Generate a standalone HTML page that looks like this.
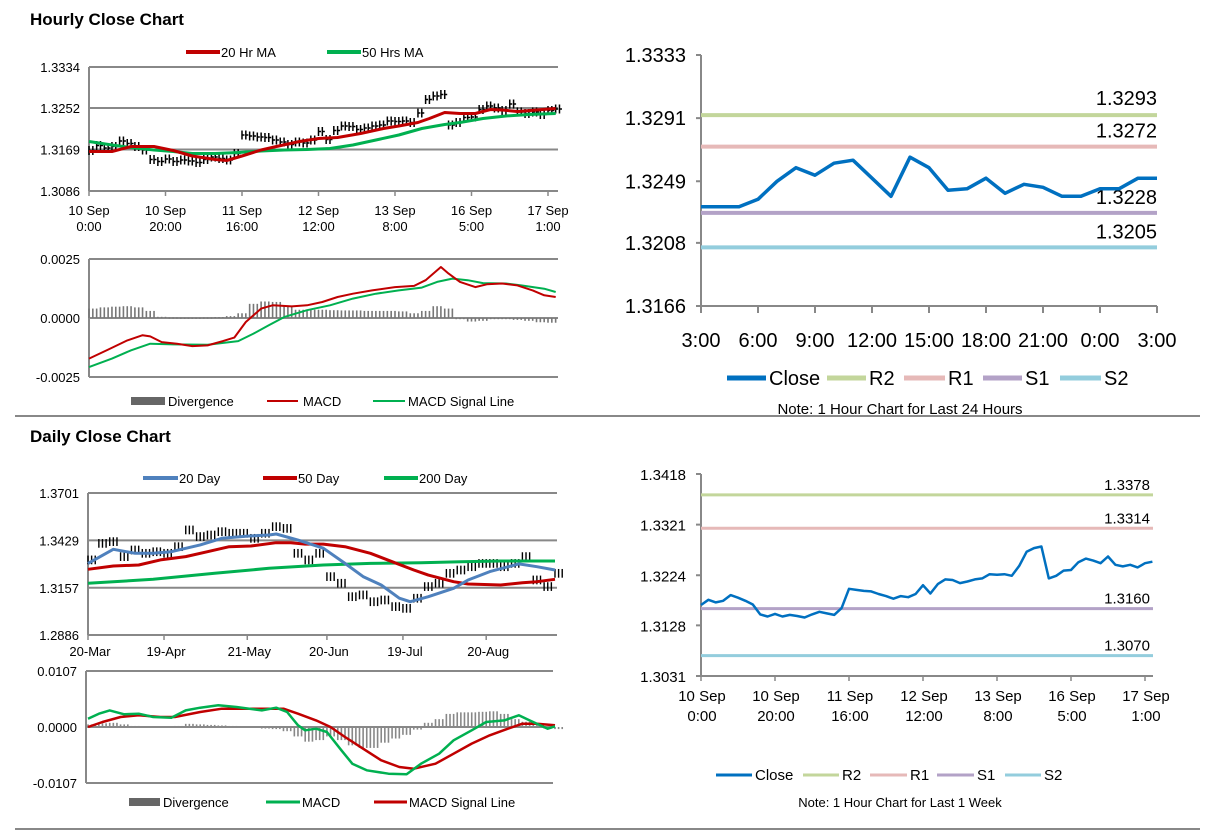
<!DOCTYPE html>
<html><head><meta charset="utf-8">
<style>
html,body{margin:0;padding:0;background:#fff;}
svg{display:block;font-family:"Liberation Sans Narrow","Liberation Sans",sans-serif;}
.t{font-family:"Liberation Sans",sans-serif;font-weight:bold;font-size:17px;fill:#000;}
</style></head>
<body>
<svg id="s" width="1212" height="834" viewBox="0 0 1212 834" xmlns="http://www.w3.org/2000/svg">
<text class="t" x="30" y="25">Hourly Close Chart</text>
<text class="t" x="30" y="442">Daily Close Chart</text>
<line x1="15" y1="416" x2="1200" y2="416" stroke="#888" stroke-width="2"/>
<line x1="15" y1="829" x2="1200" y2="829" stroke="#888" stroke-width="2"/>
</svg>
<script>
// ===== Weekly hourly close (shared by top-left and bottom-right), every 2 hours =====
const weekIdx = [];
for (let k = 0; k < 62; k++) weekIdx.push(k * 2);
const weekClose = [1.3167,1.3177,1.3172,1.3175,1.3186,1.3181,1.3175,1.3168,1.3149,1.3145,1.3150,1.3145,1.3148,1.3146,1.3143,1.3149,1.3154,1.3151,1.3148,1.3161,1.3198,1.3196,1.3194,1.3193,1.3188,1.3184,1.3179,1.3184,1.3182,1.3188,1.3205,1.3189,1.3207,1.3216,1.3215,1.3209,1.3212,1.3216,1.3218,1.3226,1.3225,1.3226,1.3223,1.3242,1.3269,1.3276,1.3279,1.3218,1.3223,1.3233,1.3234,1.3249,1.3256,1.3252,1.3247,1.3260,1.3244,1.3241,1.3244,1.3239,1.3247,1.3250];
const weekTickIdx = [0,20,40,60,80,100,120];
const weekTickTop = ["10 Sep","10 Sep","11 Sep","12 Sep","13 Sep","16 Sep","17 Sep"];
const weekTickBot = ["0:00","20:00","16:00","12:00","8:00","5:00","1:00"];
// hourly MAs
const ma20Idx = [0,6,11,17,22,27,33,36,40,45,49,55,60,65,71,77,81,86,89,93,97,101,105,108,112,117,122];
const ma20Val = [1.3165,1.3165,1.3175,1.3175,1.3167,1.3156,1.3149,1.3147,1.3156,1.3168,1.3175,1.3185,1.3191,1.3193,1.3201,1.3211,1.3216,1.3223,1.3231,1.3243,1.3241,1.3241,1.3249,1.3248,1.3245,1.3248,1.3251];
const ma50Idx = [0,6,11,17,22,27,33,39,45,51,57,63,69,75,81,87,93,97,103,109,115,122];
const ma50Val = [1.3185,1.3178,1.3173,1.3168,1.3165,1.3161,1.3161,1.3163,1.3166,1.3168,1.3169,1.3171,1.3178,1.3188,1.3198,1.3211,1.3219,1.3223,1.3231,1.3236,1.3239,1.3241];
const hTicks = [1.3334,1.3252,1.3169,1.3086];
// hourly MACD
const hMacdIdx = [0,5,10,14,16,19,23,27,31,35,38,41,45,48,53,57,61,65,69,74,80,85,88,92,94,97,101,104,108,112,116,119,122];
const hMacdVal = [-0.00172,-0.00134,-0.00095,-0.00073,-0.00078,-0.00102,-0.00109,-0.00119,-0.00116,-0.00098,-0.00083,-0.00017,0.00040,0.00054,0.00049,0.00054,0.00068,0.00089,0.00103,0.00117,0.00131,0.00136,0.00160,0.00216,0.00188,0.00153,0.00131,0.00143,0.00146,0.00138,0.00117,0.00096,0.00089];
const hSigIdx = [0,6,11,16,22,31,39,43,47,51,57,63,69,75,81,87,91,95,99,103,109,113,119,122];
const hSigVal = [-0.00208,-0.00172,-0.00137,-0.00109,-0.00112,-0.00113,-0.00098,-0.00066,-0.00031,0.00004,0.00033,0.00054,0.00082,0.00103,0.00117,0.00129,0.00153,0.00167,0.00160,0.00148,0.00146,0.00138,0.00124,0.00110];
const hDivVal = [0.0004,0.00045,0.00048,0.0005,0.00045,0.0003,0.00005,0.00002,0.00001,0.00001,0.00002,0.00004,0.00008,0.0002,0.0006,0.0007,0.00068,0.0005,0.00035,0.00035,0.00035,0.00033,0.00032,0.00032,0.0003,0.0003,0.0003,0.00028,0.0002,0.0003,0.0005,0.0004,-0.00005,-0.00015,-0.00012,-0.00005,-0.00005,-0.00008,-0.00012,-0.00018,-0.0002];
const hMacdTicks = [0.0025,0.0,-0.0025];
const hMacdTickLbl = ["0.0025","0.0000","-0.0025"];
// ===== Daily =====
const dClose = [1.3317,1.3412,1.3422,1.3336,1.3374,1.3355,1.3364,1.3355,1.3393,1.3489,1.3451,1.3460,1.3479,1.3470,1.3470,1.3441,1.3470,1.3508,1.3498,1.3355,1.3317,1.3355,1.3221,1.3183,1.3106,1.3116,1.3077,1.3087,1.3049,1.3039,1.3097,1.3164,1.3183,1.3240,1.3259,1.3278,1.3297,1.3297,1.3278,1.3297,1.3336,1.3202,1.3164,1.3240];
const d20Idx = [0,7,13,18,23,31,37,44,50,52,58,65,71,76,81,86,89,94,101,105,111,119,124,129];
const d20Val = [1.3297,1.3378,1.3355,1.3355,1.3364,1.3403,1.3441,1.3454,1.3460,1.3466,1.3431,1.3384,1.3297,1.3221,1.3173,1.3097,1.3077,1.3106,1.3154,1.3202,1.3250,1.3294,1.3278,1.3259];
const d50Idx = [0,7,14,20,27,33,39,45,52,56,60,65,71,78,84,90,94,101,105,114,120,124,129];
const d50Val = [1.3263,1.3282,1.3288,1.3317,1.3336,1.3364,1.3393,1.3397,1.3416,1.3416,1.3408,1.3408,1.3393,1.3355,1.3307,1.3259,1.3230,1.3192,1.3179,1.3173,1.3186,1.3192,1.3206];
const d200Idx = [0,18,35,50,65,78,92,103,114,129];
const d200Val = [1.3183,1.3206,1.3240,1.3269,1.3288,1.3297,1.3301,1.3307,1.3311,1.3311];
const dTicks = [1.3701,1.3429,1.3157,1.2886];
const dTickIdx = [0,21,44,66,87,110];
const dTickLbl = ["20-Mar","19-Apr","21-May","20-Jun","19-Jul","20-Aug"];
const dMacdIdx = [0,3,6,10,14,18,23,27,31,36,41,48,52,55,58,60,63,66,70,73,77,83,88,92,97,101,106,110,115,119,122,127,129];
const dMacdVal = [0.00159,0.00255,0.00318,0.00242,0.00255,0.00191,0.00178,0.00318,0.00369,0.00414,0.00382,0.00318,0.00369,0.00287,0.00032,-0.00064,-0.00032,-0.00096,-0.00446,-0.00701,-0.00828,-0.00892,-0.00904,-0.00701,-0.00510,-0.00255,-0.00064,0.00096,0.00127,0.00223,0.00127,-0.00032,0.00013];
const dSigIdx = [0,4,9,14,20,24,31,37,43,50,54,58,63,67,71,76,81,86,90,96,101,106,111,116,120,124,129];
const dSigVal = [0,0.00096,0.00191,0.00223,0.00191,0.00191,0.00287,0.0035,0.0035,0.0035,0.0035,0.00255,0.00127,0,-0.00191,-0.00414,-0.00637,-0.00764,-0.00796,-0.00701,-0.0051,-0.00318,-0.00159,-0.00032,0.00064,0.00064,0.00032];
const dDivVal = [0.0005,0.0007,0.0008,0.0005,0.0002,0.0001,-0.0001,0,0.0002,0.0006,0.0005,0.0004,0.0003,0.0002,0.0001,0,-0.0003,-0.0004,-0.0008,-0.0018,-0.0028,-0.0025,-0.0018,-0.0025,-0.0035,-0.004,-0.004,-0.003,-0.0022,-0.0015,-0.0005,0.0008,0.0015,0.0025,0.0028,0.0028,0.0029,0.003,0.0025,0.0015,0.001,0.0005,-0.0003,-0.0004];
const dMacdTicks = [0.0107,0,-0.0107];
const dMacdTickLbl = ["0.0107","0.0000","-0.0107"];
// ===== Right top: last 24h =====
const dayHours = ["3:00","4:00","5:00","6:00","7:00","8:00","9:00","10:00","11:00","12:00","13:00","14:00","15:00","16:00","17:00","18:00","19:00","20:00","21:00","22:00","23:00","0:00","1:00","2:00","3:00"];
const dayClose = [1.3232,1.3232,1.3232,1.3237,1.3249,1.3258,1.3253,1.3261,1.3263,1.3251,1.3239,1.3265,1.3258,1.3243,1.3244,1.3251,1.3241,1.3247,1.3245,1.3239,1.3239,1.3244,1.3244,1.3251,1.3251];
const rtTicks = [1.3333,1.3291,1.3249,1.3208,1.3166];
const levelNames = ["R2","R1","S1","S2"];
const rtLevels = [1.3293,1.3272,1.3228,1.3205];
const rbLevels = [1.3378,1.3314,1.3160,1.3070];
const rbTicks = [1.3418,1.3321,1.3224,1.3128,1.3031];

const NS = "http://www.w3.org/2000/svg";
const svg = document.getElementById('s');
function el(tag, attrs, name) {
  const e = document.createElementNS(NS, tag);
  for (const k in attrs) e.setAttribute(k, attrs[k]);
  
  
  svg.appendChild(e);
  return e;
}
function txt(x, y, s, size, anchor, name) {
  const e = el('text', {x: x, y: y, 'font-size': size, 'text-anchor': anchor || 'start', fill: '#000'}, name);
  e.textContent = s;
  return e;
}
function poly(idx, vals, xf, yf, color, w, name) {
  const pts = idx.map((i, k) => xf(i).toFixed(1) + ',' + yf(vals[k]).toFixed(1)).join(' ');
  return el('polyline', {points: pts, fill: 'none', stroke: color, 'stroke-width': w, 'stroke-linejoin': 'round'}, name);
}
function hline(x1, x2, y, color, w, name) { return el('line', {x1: x1, x2: x2, y1: y, y2: y, stroke: color, 'stroke-width': w}, name); }
function vline(x, y1, y2, color, w, name) { return el('line', {x1: x, x2: x, y1: y1, y2: y2, stroke: color, 'stroke-width': w}, name); }
const GRID = '#888', RED = '#c00000', GREEN = '#00b050', BLUE20 = '#4f81bd';

// ---------- Top-left hourly price ----------
const hx = i => 89 + i * 3.825;
const hy = v => 191 - (v - 1.3086) * 5000;
hTicks.forEach((v, k) => {
  if (k < 3) hline(89, 558, hy(v), GRID, 2, 'hourly-gridline');
  txt(80, hy(v) + 5, v.toFixed(4), 13, 'end', 'hourly-y-tick');
});
vline(89, 67, 191, GRID, 2, 'hourly-y-axis');
hline(89, 558, 191, GRID, 2, 'hourly-x-axis');
weekTickIdx.forEach((i, k) => {
  vline(hx(i), 191, 196, GRID, 1.5, 'hourly-x-tick-mark');
  txt(hx(i), 215, weekTickTop[k], 13, 'middle', 'hourly-x-tick');
  txt(hx(i), 231, weekTickBot[k], 13, 'middle', 'hourly-x-tick');
});
weekIdx.forEach((i, k) => {
  const v = weekClose[k];
  for (let j = 0; j < 2; j++) {
    vline(hx(i + j), hy(v + 0.0009), hy(v - 0.0009), '#000', 1.5, 'hourly-price-bar');
    hline(hx(i + j), hx(i + j) + 2.5, hy(v), '#000', 1.5, 'hourly-price-bar-close');
  }
});
poly(ma50Idx, ma50Val, hx, hy, GREEN, 3, 'hourly-50hr-ma-line');
poly(ma20Idx, ma20Val, hx, hy, RED, 3, 'hourly-20hr-ma-line');
hline(186, 220, 52, RED, 4, 'legend-20hr-ma-swatch'); txt(221, 57, '20 Hr MA', 13, 'start', 'legend-20hr-ma-label');
hline(327, 361, 52, GREEN, 4, 'legend-50hr-ma-swatch'); txt(362, 57, '50 Hrs MA', 13, 'start', 'legend-50hr-ma-label');

// ---------- Hourly MACD ----------
const hmy = v => 318 - v * 23600;
hMacdTicks.forEach((v, k) => {
  hline(89, 558, hmy(v), GRID, 2, 'hourly-macd-gridline');
  txt(80, hmy(v) + 5, hMacdTickLbl[k], 13, 'end', 'hourly-macd-y-tick');
});
vline(89, 259, 377, GRID, 2, 'hourly-macd-y-axis');
hDivVal.forEach((v, k) => {
  for (let j = 0; j < 3; j++) {
    const x = hx(k * 3 + j);
    el('rect', {x: x - 0.8, y: Math.min(hmy(v), 318), width: 1.6, height: Math.max(1, Math.abs(hmy(v) - 318)), fill: '#777'}, 'hourly-divergence-bar');
  }
});
poly(hSigIdx, hSigVal, hx, hmy, GREEN, 2, 'hourly-macd-signal-line');
poly(hMacdIdx, hMacdVal, hx, hmy, RED, 2, 'hourly-macd-line');
el('rect', {x: 131, y: 397, width: 34, height: 8, fill: '#666'}, 'legend-divergence-swatch'); txt(168, 406, 'Divergence', 13, 'start', 'legend-divergence-label');
hline(267, 298, 401, RED, 2, 'legend-macd-swatch'); txt(303, 406, 'MACD', 13, 'start', 'legend-macd-label');
hline(373, 405, 401, GREEN, 2, 'legend-signal-swatch'); txt(408, 406, 'MACD Signal Line', 13, 'start', 'legend-signal-label');

// ---------- Daily price ----------
const dx = i => 88 + i * 3.62;
const dy = v => 635 - (v - 1.2886) * 1742;
dTicks.forEach((v, k) => {
  if (k < 3) hline(88, 557, dy(v), GRID, 2, 'daily-gridline');
  txt(79, dy(v) + 5, v.toFixed(4), 13, 'end', 'daily-y-tick');
});
vline(88, 493, 635, GRID, 2, 'daily-y-axis');
hline(88, 557, 635, GRID, 2, 'daily-x-axis');
dTickIdx.forEach((i, k) => {
  vline(dx(i), 635, 640, GRID, 1.5, 'daily-x-tick-mark');
  txt(dx(i) + 2, 656, dTickLbl[k], 13, 'middle', 'daily-x-tick');
});
dClose.forEach((v, k) => {
  for (let j = 0; j < 3; j++) {
    const x = dx(k * 3 + j);
    vline(x, dy(v + 0.0025), dy(v - 0.0025), '#000', 1.4, 'daily-price-bar');
  }
});
poly(d200Idx, d200Val, dx, dy, GREEN, 3, 'daily-200day-ma');
poly(d50Idx, d50Val, dx, dy, RED, 3, 'daily-50day-ma');
poly(d20Idx, d20Val, dx, dy, BLUE20, 3, 'daily-20day-ma');
hline(143, 178, 478, BLUE20, 4, 'legend-20day-swatch'); txt(179, 483, '20 Day', 13, 'start', 'legend-20day-label');
hline(263, 297, 478, RED, 4, 'legend-50day-swatch'); txt(298, 483, '50 Day', 13, 'start', 'legend-50day-label');
hline(384, 418, 478, GREEN, 4, 'legend-200day-swatch'); txt(419, 483, '200 Day', 13, 'start', 'legend-200day-label');

// ---------- Daily MACD ----------
const dmy = v => 727 - v * 5234;
dMacdTicks.forEach((v, k) => {
  hline(86, 553, dmy(v), GRID, 2, 'daily-macd-gridline');
  txt(77, dmy(v) + 5, dMacdTickLbl[k], 13, 'end', 'daily-macd-y-tick');
});
vline(86, 671, 783, GRID, 2, 'daily-macd-y-axis');
dDivVal.forEach((v, k) => {
  for (let j = 0; j < 3; j++) {
    const x = dx(k * 3 + j);
    el('rect', {x: x - 0.8, y: Math.min(dmy(v), 727), width: 1.6, height: Math.max(1, Math.abs(dmy(v) - 727)), fill: '#888'}, 'daily-divergence-bar');
  }
});
poly(dSigIdx, dSigVal, dx, dmy, RED, 2.5, 'daily-macd-signal-line');
poly(dMacdIdx, dMacdVal, dx, dmy, GREEN, 2.5, 'daily-macd-line');
el('rect', {x: 129, y: 798, width: 31, height: 8, fill: '#666'}, 'legend-daily-divergence-swatch'); txt(163, 807, 'Divergence', 13, 'start', 'legend-daily-divergence-label');
hline(266, 300, 802, GREEN, 3, 'legend-daily-macd-swatch'); txt(302, 807, 'MACD', 13, 'start', 'legend-daily-macd-label');
hline(374, 407, 802, RED, 3, 'legend-daily-signal-swatch'); txt(409, 807, 'MACD Signal Line', 13, 'start', 'legend-daily-signal-label');

// ---------- Right top 24h ----------
const LCOL = ['#c3d69b', '#e6b9b8', '#b3a2c7', '#93cddd'];
const rx = i => 701 + i * 19;
const ry = v => 306 - (v - 1.3166) * 15030;
vline(701, 55, 306, GRID, 2, 'rt-y-axis');
hline(701, 1157, 306, GRID, 2, 'rt-x-axis');
rtTicks.forEach(v => {
  hline(696, 701, ry(v), GRID, 2, 'rt-y-tick-mark');
  txt(686, ry(v) + 7, v.toFixed(4), 20, 'end', 'rt-y-tick');
});
dayHours.forEach((h, i) => {
  if (i % 3 === 0) {
    vline(rx(i), 306, 313, GRID, 2, 'rt-x-tick-mark');
    txt(rx(i), 347, h, 20, 'middle', 'rt-x-tick');
  }
});
rtLevels.forEach((v, k) => {
  hline(701, 1157, ry(v), LCOL[k], 4, 'rt-level-' + levelNames[k].toLowerCase());
  txt(1157, ry(v) - (k === 0 ? 10 : 9), v.toFixed(4), 20, 'end', 'rt-level-label');
});
poly(dayHours.map((h, i) => i), dayClose, rx, ry, '#0070c0', 3.5, 'rt-close-line');
const rtLeg = [['Close', '#0070c0', 727, 769], ['R2', LCOL[0], 827, 869], ['R1', LCOL[1], 904, 948], ['S1', LCOL[2], 983, 1025], ['S2', LCOL[3], 1060, 1104]];
rtLeg.forEach(l => { hline(l[2], l[3] - 3, 378, l[1], 5, 'rt-legend-swatch'); txt(l[3], 385, l[0], 20, 'start', 'rt-legend-label'); });
txt(900, 414, 'Note: 1 Hour Chart for Last 24 Hours', 15, 'middle', 'rt-note');

// ---------- Right bottom week ----------
const bx = i => 701 + i * 3.7;
const by = v => 676 - (v - 1.3031) * 5220;
vline(701, 474, 676, GRID, 2, 'rb-y-axis');
hline(701, 1153, 676, GRID, 2, 'rb-x-axis');
rbTicks.forEach(v => {
  hline(696, 701, by(v), GRID, 2, 'rb-y-tick-mark');
  txt(686, by(v) + 6, v.toFixed(4), 15, 'end', 'rb-y-tick');
});
weekTickIdx.forEach((i, k) => {
  vline(bx(i), 676, 681, GRID, 1.5, 'rb-x-tick-mark');
  txt(bx(i) + 1, 701, weekTickTop[k], 15, 'middle', 'rb-x-tick');
  txt(bx(i) + 1, 721, weekTickBot[k], 15, 'middle', 'rb-x-tick');
});
rbLevels.forEach((v, k) => {
  hline(701, 1153, by(v), LCOL[k], 3, 'rb-level-' + levelNames[k].toLowerCase());
  txt(1150, by(v) - 5, v.toFixed(4), 15, 'end', 'rb-level-label');
});
poly(weekIdx, weekClose, bx, by, '#0070c0', 2.5, 'rb-close-line');
const rbLeg = [['Close', '#0070c0', 716, 755], ['R2', LCOL[0], 803, 842], ['R1', LCOL[1], 870, 910], ['S1', LCOL[2], 937, 977], ['S2', LCOL[3], 1005, 1044]];
rbLeg.forEach(l => { hline(l[2], l[3] - 3, 775, l[1], 3, 'rb-legend-swatch'); txt(l[3], 780, l[0], 15, 'start', 'rb-legend-label'); });
txt(900, 807, 'Note: 1 Hour Chart for  Last 1 Week', 13, 'middle', 'rb-note');
</script>
</body></html>
